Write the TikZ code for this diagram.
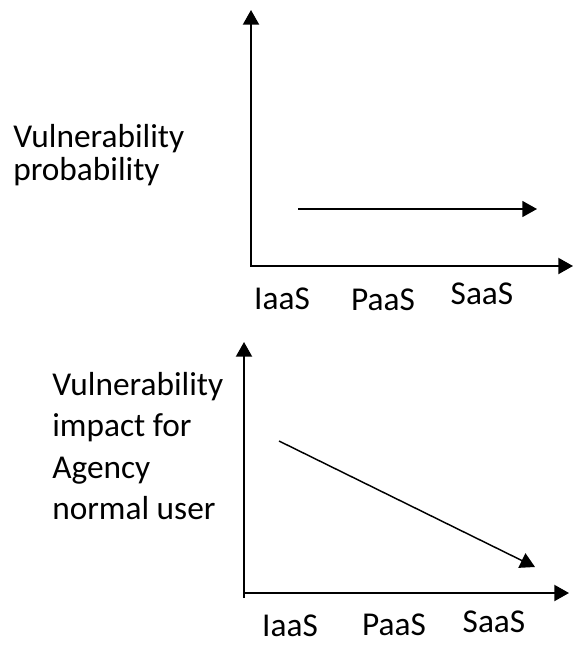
\documentclass[tikz,border=0pt]{standalone}
\usepackage{fontspec}
\setmainfont{Carlito}
\usetikzlibrary{arrows.meta}

\begin{document}
\begin{tikzpicture}[x=0.75pt, y=-0.75pt,
    axis/.style={line width=1.5pt, -{Triangle[length=11pt, width=12pt]}},
    trend/.style={line width=1.1pt, -{Triangle[length=11pt, width=12pt]}},
    lbl/.style={font=\fontsize{25}{25}\selectfont, inner sep=0pt}]
      \useasboundingbox (0,0) rectangle (573,646);

      % Top chart: probability
      \coordinate (o1) at (251,266);
      \coordinate (y1) at (251,10);
      \coordinate (x1) at (573,266);
      \draw[axis] (o1) -- (y1);
      \draw[axis] (250,266) -- (x1);
      \coordinate (p1) at (298,209);
      \coordinate (p2) at (537,209);
      \draw[trend] (p1) -- (p2);
      \node[lbl, anchor=north west, align=left, font=\fontsize{25}{24.75}\selectfont] (prob) at (13,124)
        {Vulnerability\\probability};
      \node[lbl] (iaas1) at (282,299) {IaaS};
      \node[lbl] (paas1) at (383,300) {PaaS};
      \node[lbl] (saas1) at (482,294) {SaaS};

      % Bottom chart: impact
      \coordinate (o2) at (244,598);
      \coordinate (y2) at (244,342);
      \coordinate (x2) at (569,593);
      \draw[axis] (o2) -- (y2);
      \draw[axis] (244,593) -- (x2);
      \coordinate (q1) at (279,441);
      \coordinate (q2) at (535,567);
      \draw[trend] (q1) -- (q2);
      \node[lbl, anchor=north west, align=left, font=\fontsize{25}{31}\selectfont] (impact) at (52,372)
        {Vulnerability\\impact for\\Agency\\normal user};
      \node[lbl] (iaas2) at (290,626) {IaaS};
      \node[lbl] (paas2) at (394,625) {PaaS};
      \node[lbl] (saas2) at (494,622) {SaaS};
\end{tikzpicture}
\end{document}
